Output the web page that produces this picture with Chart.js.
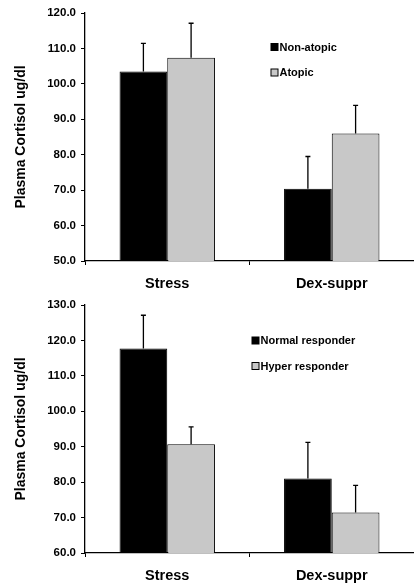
<!DOCTYPE html>
<html><head><meta charset="utf-8">
<script src="https://cdn.jsdelivr.net/npm/chart.js@4.4.1/dist/chart.umd.min.js"></script>
<style>html,body{margin:0;padding:0;background:#fff;overflow:hidden}
#w1{position:absolute;left:0;top:0;width:414px;height:290px}
#w2{position:absolute;left:0;top:290px;width:414px;height:297px}</style>
</head><body>
<div id="w1"><canvas id="c1" width="414" height="290"></canvas></div>
<div id="w2"><canvas id="c2" width="414" height="297"></canvas></div>
<script>
// ---- data ----
const categories = ['Stress', 'Dex-suppr'];
const yAxisTitle = 'Plasma Cortisol ug/dl';

const topSeriesNames = ['Non-atopic', 'Atopic'];
const topNonAtopic = [103.5, 70.4];
const topNonAtopicErr = [7.9, 9.1];
const topAtopic = [107.4, 86.0];
const topAtopicErr = [9.7, 7.9];
const topYMin = 50, topYMax = 120, topYStep = 10;

const bottomSeriesNames = ['Normal responder', 'Hyper responder'];
const bottomNormal = [117.7, 81.0];
const bottomNormalErr = [9.4, 10.2];
const bottomHyper = [90.7, 71.4];
const bottomHyperErr = [4.9, 7.7];
const bottomYMin = 60, bottomYMax = 130, bottomYStep = 10;

// ---- styles ----
const FONT = '"Liberation Sans", Arial, sans-serif';
const BLACK = '#000000';
const GRAY = '#c8c8c8';

const errorBarPlugin = {
  id: 'errorBars',
  afterDatasetsDraw(chart) {
    const ctx = chart.ctx;
    const y = chart.scales.y;
    ctx.save();
    ctx.strokeStyle = BLACK;
    ctx.lineWidth = 1.3;
    chart.data.datasets.forEach((ds, di) => {
      const meta = chart.getDatasetMeta(di);
      meta.data.forEach((bar, i) => {
        const v = ds.data[i], e = ds.errors[i];
        const y0 = y.getPixelForValue(v);
        const y1 = y.getPixelForValue(v + e);
        ctx.beginPath();
        ctx.moveTo(bar.x, y0);
        ctx.lineTo(bar.x, y1);
        ctx.moveTo(bar.x - 2.5, y1);
        ctx.lineTo(bar.x + 2.5, y1);
        ctx.stroke();
      });
    });
    ctx.restore();
  }
};

const insideLegendPlugin = {
  id: 'insideLegend',
  afterDraw(chart, args, opts) {
    const ctx = chart.ctx;
    ctx.save();
    ctx.font = 'bold 11px ' + FONT;
    ctx.textBaseline = 'middle';
    ctx.textAlign = 'left';
    chart.data.datasets.forEach((ds, i) => {
      const cy = opts.y[i];
      ctx.fillStyle = ds.backgroundColor;
      ctx.fillRect(opts.x + 0.5, cy - 3.5, 7, 7);
      ctx.strokeStyle = BLACK;
      ctx.lineWidth = 1;
      ctx.strokeRect(opts.x + 0.5, cy - 3.5, 7, 7);
      ctx.fillStyle = BLACK;
      ctx.fillText(ds.label, opts.x + 9, cy + 0.5);
    });
    ctx.restore();
  }
};

function makeChart(id, names, s1, e1, s2, e2, ymin, ymax, ystep, padTop, xHeight, legend) {
  return new Chart(document.getElementById(id), {
    type: 'bar',
    data: {
      labels: categories,
      datasets: [
        { label: names[0], data: s1, errors: e1, backgroundColor: BLACK, borderColor: BLACK, borderWidth: 1 },
        { label: names[1], data: s2, errors: e2, backgroundColor: GRAY, borderColor: BLACK, borderWidth: 1 }
      ]
    },
    options: {
      responsive: false,
      animation: false,
      devicePixelRatio: 1,
      layout: { padding: { top: padTop, right: 0, left: 0, bottom: 0 } },
      datasets: { bar: { categoryPercentage: 0.58, barPercentage: 1.0 } },
      plugins: {
        legend: { display: false },
        tooltip: { enabled: false },
        insideLegend: legend
      },
      scales: {
        x: {
          grid: { display: true, drawOnChartArea: false, drawTicks: true, tickLength: 4, color: BLACK, offset: true },
          border: { display: true, color: BLACK, width: 1.3 },
          ticks: { color: BLACK, font: { family: FONT, size: 14.5, weight: 'bold' }, padding: 10, maxRotation: 0 },
          afterFit(s) { s.height = xHeight; }
        },
        y: {
          min: ymin, max: ymax,
          grid: { display: true, drawOnChartArea: false, drawTicks: true, tickLength: 4, color: BLACK },
          border: { display: true, color: BLACK, width: 1.3 },
          ticks: { stepSize: ystep, color: BLACK, font: { family: FONT, size: 11.5, weight: 'bold' }, padding: 5,
                   callback: v => Number(v).toFixed(1) },
          title: { display: true, text: yAxisTitle, color: BLACK, font: { family: FONT, size: 14, weight: 'bold' },
                   padding: { top: 13, bottom: 0 } },
          afterFit(s) { s.width = 85; }
        }
      }
    },
    plugins: [errorBarPlugin, insideLegendPlugin]
  });
}

makeChart('c1', topSeriesNames, topNonAtopic, topNonAtopicErr, topAtopic, topAtopicErr,
  topYMin, topYMax, topYStep, 13, 29, { x: 270.5, y: [47, 72.5] });
makeChart('c2', bottomSeriesNames, bottomNormal, bottomNormalErr, bottomHyper, bottomHyperErr,
  bottomYMin, bottomYMax, bottomYStep, 15, 34, { x: 251.5, y: [50.5, 76] });
</script>
</body></html>
